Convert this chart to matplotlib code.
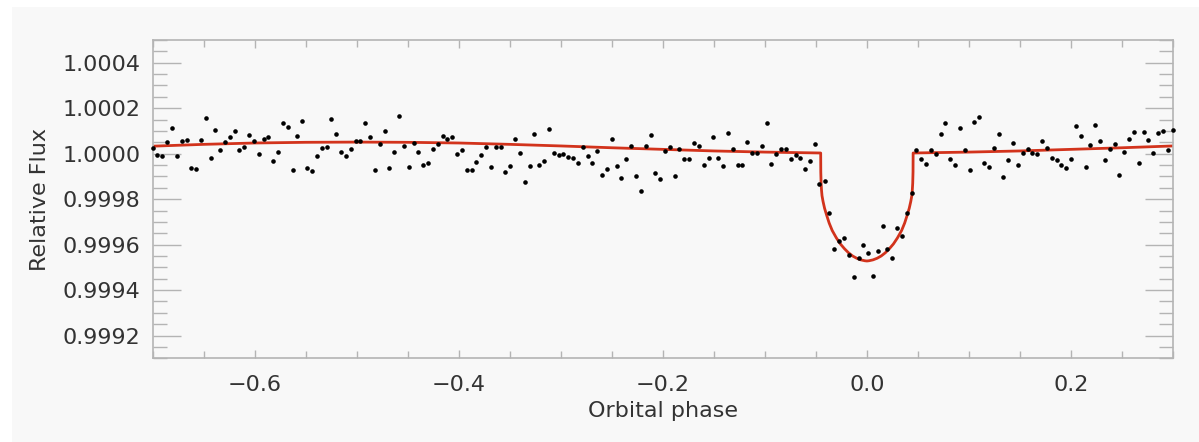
import numpy as np
import matplotlib
matplotlib.use("Agg")
from matplotlib import pyplot as plt
from matplotlib.patches import Rectangle
from matplotlib.ticker import MultipleLocator, FormatStrFormatter

# binned light curve: orbital phase and flux offset (ppm)
phase = [
    -0.7000, -0.6955, -0.6909, -0.6860, -0.6811, -0.6765, -0.6716, -0.6667, -0.6621, -0.6572,
    -0.6527, -0.6481, -0.6432, -0.6386, -0.6337, -0.6291, -0.6242, -0.6197, -0.6151, -0.6102,
    -0.6053, -0.6007, -0.5958, -0.5912, -0.5867, -0.5818, -0.5769, -0.5723, -0.5674, -0.5628,
    -0.5582, -0.5533, -0.5484, -0.5439, -0.5393, -0.5344, -0.5295, -0.5249, -0.5200, -0.5155,
    -0.5106, -0.5060, -0.5011, -0.4965, -0.4916, -0.4870, -0.4821, -0.4776, -0.4727, -0.4681,
    -0.4632, -0.4586, -0.4537, -0.4491,
    -0.4442, -0.4396, -0.4347, -0.4302, -0.4253, -0.4207, -0.4158, -0.4112, -0.4063, -0.4017,
    -0.3968, -0.3923, -0.3874, -0.3828, -0.3779, -0.3733, -0.3684, -0.3638, -0.3589, -0.3544,
    -0.3495, -0.3449, -0.3400, -0.3354, -0.3305, -0.3259, -0.3210, -0.3165, -0.3116, -0.3070,
    -0.3021, -0.2975, -0.2926, -0.2881, -0.2832, -0.2786, -0.2737, -0.2691, -0.2642, -0.2596,
    -0.2547, -0.2502, -0.2453, -0.2407, -0.2358, -0.2312, -0.2263, -0.2217, -0.2168, -0.2119,
    -0.2074, -0.2025, -0.1979,
    -0.1933, -0.1884, -0.1838, -0.1789, -0.1743, -0.1694, -0.1645, -0.1600, -0.1551, -0.1505,
    -0.1459, -0.1410, -0.1364, -0.1315, -0.1266, -0.1221, -0.1172, -0.1126, -0.1077, -0.1031,
    -0.0982, -0.0936, -0.0887, -0.0842, -0.0793, -0.0747, -0.0698, -0.0652, -0.0603, -0.0557,
    -0.0508,
    -0.0465, -0.0414, -0.0369, -0.0322, -0.0273, -0.0227, -0.0175, -0.0131, -0.0082, -0.0035,
    0.0011, 0.0058, 0.0104, 0.0155, 0.0199, 0.0248, 0.0295, 0.0344, 0.0390, 0.0442,
    0.0484, 0.0533,
    0.0579, 0.0628, 0.0674, 0.0723, 0.0769, 0.0818, 0.0864, 0.0913, 0.0958, 0.1007,
    0.1053, 0.1102, 0.1148, 0.1197, 0.1243, 0.1292, 0.1337, 0.1386, 0.1435, 0.1481,
    0.1527, 0.1576, 0.1622, 0.1671, 0.1716, 0.1765, 0.1811, 0.1860, 0.1906, 0.1955,
    0.2001, 0.2050, 0.2095, 0.2144, 0.2190, 0.2239, 0.2285, 0.2334, 0.2380, 0.2429,
    0.2474, 0.2523, 0.2569, 0.2618, 0.2664, 0.2713, 0.2758, 0.2807, 0.2853, 0.2902,
    0.2948, 0.2997,
]
flux_ppm = [
    25, -5, -9, 53, 111, -11, 54, 60, -65, -68,
    61, 159, -17, 106, 14, 50, 72, 100, 17, 28,
    80, 55, -2, 63, 75, -31, 8, 134, 116, -70,
    78, 142, -61, -74, -12, 23, 29, 153, 85, 7,
    -12, 19, 55, 55, 134, 75, -73, 44, 100, -65,
    7, 167, 32, -58,
    45, 8, -50, -40, 22, 41, 76, 63, 73, -2,
    16, -73, -71, -37, -5, 29, -58, 30, 29, -81,
    -55, 63, 5, -123, -56, 88, -48, -33, 110, 4,
    -5, 0, -15, -17, -43, 28, -9, -43, 10, -93,
    -67, 64, -53, -106, -25, 35, -99, -164, 32, 83,
    -87, -111, 10,
    28, -96, 22, -24, -25, 48, 33, -49, -18, 72,
    -17, -52, 92, 20, -49, -51, 51, 3, 3, 35,
    137, -45, 0, 20, 19, -24, -5, -17, -67, -34,
    44,
    -135, -118, -261, -419, -385, -373, -445, -542, -461, -401,
    -436, -536, -430, -318, -418, -459, -327, -360, -262, -173,
    14, -23,
    -45, 16, -2, 88, 134, -23, -51, 114, 16, -73,
    138, 162, -43, -58, 26, 88, -102, -27, 48, -49,
    1, 22, 3, -3, 54, 26, -18, -28, -51, -64,
    -23, 123, 79, -59, 36, 126, 54, -30, 19, 42,
    -95, 7, 66, 94, -39, 95, 61, 1, 91, 101,
    17, 104,
]

# best-fit model (phase curve + transit)
model_phase = [
    -0.70, -0.65, -0.60, -0.55, -0.50, -0.45, -0.40, -0.35, -0.30, -0.25,
    -0.20, -0.15, -0.10, -0.0453,
    -0.0452, -0.0449, -0.0445, -0.0440, -0.0430, -0.0415, -0.0395, -0.0370, -0.0340, -0.0300,
    -0.0260, -0.0220, -0.0180, -0.0140, -0.0100, -0.0060, -0.0020, 0.0000,
    0.0020, 0.0060, 0.0100, 0.0140, 0.0180, 0.0220, 0.0260, 0.0300, 0.0340, 0.0370,
    0.0395, 0.0415, 0.0430, 0.0440, 0.0445, 0.0449, 0.0452,
    0.0453, 0.10, 0.15, 0.20, 0.25, 0.30,
]
model_ppm = [
    33, 41, 47, 50, 51, 50, 47, 41, 34, 26,
    19, 12, 7, 3,
    -80, -130, -160, -185, -210, -240, -270, -305, -338, -370,
    -397, -418, -436, -450, -460, -467, -471, -472,
    -471, -467, -460, -450, -436, -418, -397, -370, -338, -305,
    -270, -240, -210, -185, -160, -130, -80,
    3, 7, 12, 19, 26, 34,
]

bg = '#f8f8f8'
grey = '#b4b4b4'
txt = '#333333'

fig = plt.figure(figsize=(11.99, 4.42), dpi=100, facecolor='white')
fig.add_artist(Rectangle((12/1199, 0), 1, 435/442, transform=fig.transFigure,
                         facecolor=bg, edgecolor='none', zorder=-10))
ax = fig.add_axes([152.7/1199, 83.7/442, 1020.3/1199, 318.3/442])
ax.set_zorder(1)
ax.set_facecolor(bg)

flux = 1 + np.array(flux_ppm) * 1e-6
model = 1 + np.array(model_ppm) * 1e-6

ax.plot(model_phase, model, color='#d2331c', lw=2.0, zorder=2)
ax.plot(phase, flux, 'o', ms=3.3, color='black', mec='none', zorder=3, clip_on=False)

ax.set_xlim(-0.7, 0.3)
ax.set_ylim(0.9991, 1.0005)

ax.xaxis.set_major_locator(MultipleLocator(0.2))
ax.xaxis.set_minor_locator(MultipleLocator(0.05))
ax.yaxis.set_major_locator(MultipleLocator(0.0002))
ax.yaxis.set_minor_locator(MultipleLocator(0.00005))
ax.yaxis.set_major_formatter(FormatStrFormatter('%.4f'))

ax.tick_params(axis='y', which='major', direction='in', length=20, width=1,
               color=grey, left=True, right=True, labelsize=16, pad=9, labelcolor=txt)
ax.tick_params(axis='y', which='minor', direction='in', length=10, width=1,
               color=grey, left=True, right=True)
ax.tick_params(axis='x', which='major', direction='in', length=6, width=1,
               color=grey, top=True, bottom=True, labelsize=16, pad=12, labelcolor=txt)
ax.tick_params(axis='x', which='minor', direction='in', length=5, width=1,
               color=grey, top=True, bottom=True)

for s in ax.spines.values():
    s.set_color(grey)
    s.set_linewidth(1.2)

ax.set_xlabel('Orbital phase', fontsize=16, color=txt, labelpad=4)
ax.set_ylabel('Relative Flux', fontsize=16, color=txt, labelpad=9)

fig.savefig('out.png', dpi=100, facecolor='white')
